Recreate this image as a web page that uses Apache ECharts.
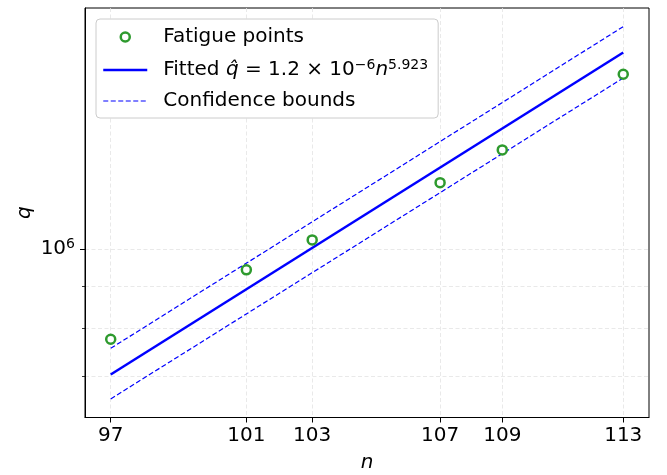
<!DOCTYPE html>
<html>
<head>
<meta charset="utf-8">
<script src="https://cdn.jsdelivr.net/npm/echarts@6/dist/echarts.min.js"></script>
<style>
  html, body { margin: 0; padding: 0; background: #fff; }
  #chart { width: 667px; height: 475px; }
</style>
</head>
<body>
<div id="chart"></div>
<script>
// Observed fatigue points: cycle count n against load q
const nValues = [97, 101, 103, 107, 109, 113];
const qValues = [776000, 943000, 1025600, 1204500, 1320400, 1633000];

// Fitted power law and its confidence band, evaluated at the ends of the n range
const fitN = [97, 113];
const fitQ = [703000, 1736000];
const upperQ = [756500, 1866500];
const lowerQ = [656400, 1616000];

// Tick positions
const xTicks = [97, 101, 103, 107, 109, 113];
const yMajorTicks = [1000000];
const yMinorTicks = [700000, 800000, 900000];

const FONT = 'DejaVu Sans';
const FS = 20;
const SUP = 14;
const pairs = (xs, ys) => xs.map((x, i) => [x, ys[i]]);

const GREEN = '#2e9a2e';
const BLUE = '#0000ff';

// Legend glyphs, drawn in a 44x14 box (the leading moves pin the box size)
const BOX = 'M0,0 M44,14 ';
const ringIcon = 'path://' + BOX + 'M17.5,7 a4.5,4.5 0 1,0 9,0 a4.5,4.5 0 1,0 -9,0 Z';
const solidIcon = 'path://' + BOX + 'M0,5.75 h44 v2.5 h-44 Z';
let dashPath = BOX;
for (let x = 0; x < 44; x += 7.5) dashPath += 'M' + x + ',6.4 h' + Math.min(5, 44 - x) + ' v1.2 h-' + Math.min(5, 44 - x) + ' Z ';
const dashIcon = 'path://' + dashPath;

const gridLine = { show: true, lineStyle: { color: '#e3e3e3', width: 0.8, type: [4, 2.5] } };

const chart = echarts.init(document.getElementById('chart'), null, { renderer: 'canvas' });

chart.setOption({
  animation: false,
  backgroundColor: '#fff',
  textStyle: { fontFamily: FONT },
  grid: {
    left: 85, right: 18, top: 8, bottom: 57.5,
    outerBoundsMode: 'none', containLabel: false,
    show: true, borderColor: '#000', borderWidth: 1, backgroundColor: 'transparent'
  },
  legend: {
    orient: 'vertical',
    left: 96, top: 19,
    padding: [8, 10, 7, 6],
    itemGap: 11,
    itemWidth: 44, itemHeight: 14,
    backgroundColor: '#fff',
    borderColor: '#cccccc', borderWidth: 1, borderRadius: 4,
    selectedMode: false,
    textStyle: {
      fontFamily: FONT, fontSize: FS, color: '#000', padding: [0, 0, 0, 11],
      rich: {
        it: { fontFamily: FONT, fontStyle: 'italic', fontSize: FS, color: '#000' },
        sup: { fontFamily: FONT, fontSize: SUP, color: '#000', padding: [0, 0, 10, 0] }
      }
    },
    data: [
      { name: 'Fatigue points', icon: ringIcon, itemStyle: { color: '#ffffff', borderColor: GREEN, borderWidth: 2.5 } },
      { name: 'Fitted', icon: solidIcon, itemStyle: { color: BLUE, borderWidth: 0 } },
      { name: 'Confidence bounds', icon: dashIcon, itemStyle: { color: BLUE, borderWidth: 0 } }
    ],
    formatter: function (name) {
      if (name === 'Fitted') {
        return 'Fitted {it|q\u0302} = 1.2 \u00d7 10{sup|\u22126}{it|n}{sup|5.923}';
      }
      return name;
    }
  },
  xAxis: {
    type: 'log', logBase: 10,
    min: 96.26, max: 113.87,
    name: 'n', nameLocation: 'middle', nameGap: 35,
    nameTextStyle: { fontFamily: FONT, fontStyle: 'italic', fontSize: FS, color: '#000' },
    axisLine: { show: true, lineStyle: { color: '#000', width: 1 } },
    axisTick: { show: true, inside: false, length: 5, customValues: xTicks, lineStyle: { color: '#000', width: 1 } },
    axisLabel: { customValues: xTicks, fontFamily: FONT, fontSize: FS, color: '#000', margin: 8, formatter: v => String(Math.round(v)) },
    splitLine: gridLine,
    minorTick: { show: false }, minorSplitLine: { show: false }
  },
  yAxis: [
    {
      type: 'log', logBase: 10,
      min: 623000, max: 1966700,
      name: 'q', nameLocation: 'middle', nameGap: 50, nameRotate: 90,
      nameMoveOverlap: false,
      nameTextStyle: { fontFamily: FONT, fontStyle: 'italic', fontSize: FS, color: '#000' },
      axisLine: { show: true, lineStyle: { color: '#000', width: 1 } },
      axisTick: { show: true, inside: false, length: 5, customValues: yMajorTicks, lineStyle: { color: '#000', width: 1 } },
      axisLabel: {
        customValues: yMajorTicks, fontFamily: FONT, fontSize: FS, color: '#000', margin: 10,
        formatter: v => '10{sup|' + Math.round(Math.log10(v)) + '}',
        rich: { sup: { fontFamily: FONT, fontSize: SUP, color: '#000', padding: [0, 0, 10, 0] } }
      },
      splitLine: gridLine
    },
    {
      type: 'log', logBase: 10,
      min: 623000, max: 1966700,
      position: 'left',
      axisLine: { show: false },
      axisTick: { show: true, inside: false, length: 3, customValues: yMinorTicks, lineStyle: { color: '#000', width: 0.8 } },
      axisLabel: { show: false, customValues: yMinorTicks },
      splitLine: gridLine
    }
  ],
  series: [
    {
      name: 'Confidence bounds', type: 'line', yAxisIndex: 0,
      data: pairs(fitN, upperQ), showSymbol: false, symbol: 'none',
      lineStyle: { color: BLUE, width: 1.2, type: [5, 2.5] },
      itemStyle: { color: BLUE }, z: 3
    },
    {
      name: 'Confidence bounds', type: 'line', yAxisIndex: 0,
      data: pairs(fitN, lowerQ), showSymbol: false, symbol: 'none',
      lineStyle: { color: BLUE, width: 1.2, type: [5, 2.5] },
      itemStyle: { color: BLUE }, z: 3
    },
    {
      name: 'Fitted', type: 'line', yAxisIndex: 0,
      data: pairs(fitN, fitQ), showSymbol: false, symbol: 'none',
      lineStyle: { color: BLUE, width: 2.5 },
      itemStyle: { color: BLUE }, z: 4
    },
    {
      name: 'Fatigue points', type: 'scatter', yAxisIndex: 0,
      data: pairs(nValues, qValues),
      symbol: 'circle', symbolSize: 9,
      itemStyle: { color: '#ffffff', opacity: 1, borderColor: GREEN, borderWidth: 2.5 },
      z: 5
    }
  ]
});
</script>
</body>
</html>
